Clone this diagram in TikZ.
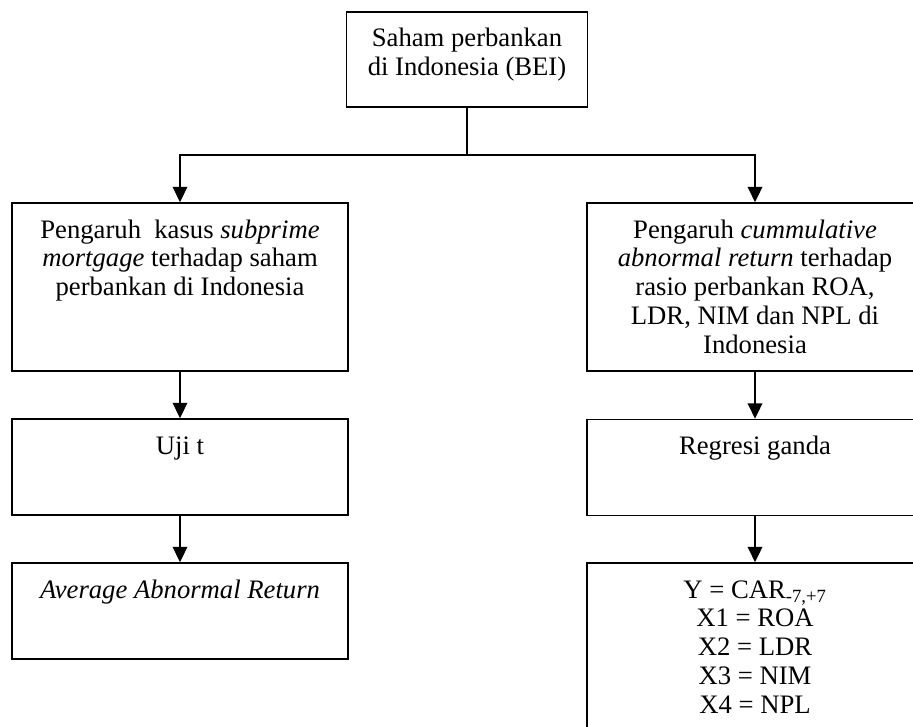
\documentclass[tikz,border=0pt]{standalone}
\usepackage{fontspec}
\setmainfont{Liberation Serif}
\usetikzlibrary{arrows.meta}

% isi kotak: lebar, tinggi, teks (teks mulai dari atas)
\newcommand{\isikotak}[3]{\parbox[c][#2][t]{#1}{\centering\rule{0pt}{26.25pt}#3}}

\begin{document}
\begin{tikzpicture}[x=0.75pt, y=-0.75pt,
    kotak/.style={draw, line width=1.3pt, inner sep=0pt, font=\fontsize{20}{21.6}\selectfont},
    panah/.style={line width=1.3pt, -{Triangle[width=11pt,length=11.5pt]}}]
    \useasboundingbox (0,0) rectangle (913,727);
    \clip (0,0) rectangle (913,727);

    \node[kotak] (saham) at (467,59.5) {\isikotak{180.75pt}{71.25pt}{Saham perbankan\\di Indonesia (BEI)}};
    \node[kotak] (kiri1) at (180,287) {\isikotak{252pt}{126pt}{Pengaruh \ kasus \textit{subprime}\\\textit{mortgage} terhadap saham\\perbankan di Indonesia}};
    \node[kotak] (kanan1) at (755,287) {\isikotak{252pt}{126pt}{Pengaruh \textit{cummulative}\\\textit{abnormal return} terhadap\\rasio perbankan ROA,\\LDR, NIM dan NPL di\\Indonesia}};
    \node[kotak] (kiri2) at (180,467) {\isikotak{252pt}{72pt}{Uji t}};
    \node[kotak] (kanan2) at (755,467.5) {\isikotak{252pt}{72pt}{Regresi ganda}};
    \node[kotak] (kiri3) at (180,611) {\isikotak{252pt}{72pt}{\textit{Average Abnormal Return}}};
    \node[kotak] (kanan3) at (755,650.5) {\isikotak{252pt}{131.25pt}{Y = CAR\textsubscript{-7,+7}\\X1 = ROA\\X2 = LDR\\X3 = NIM\\X4 = NPL}};

    \coordinate (cabang) at (467,155);%titik cabang
    \draw[line width=1.3pt] (saham.south) -- (cabang);
    \draw[panah] (cabang) -| (kiri1.north);
    \draw[panah] (cabang) -| (kanan1.north);
    \draw[panah] (kiri1) -- (kiri2);
    \draw[panah] (kiri2) -- (kiri3);
    \draw[panah] (kanan1) -- (kanan2);
    \draw[panah] (kanan2) -- (kanan3);
\end{tikzpicture}
\end{document}
